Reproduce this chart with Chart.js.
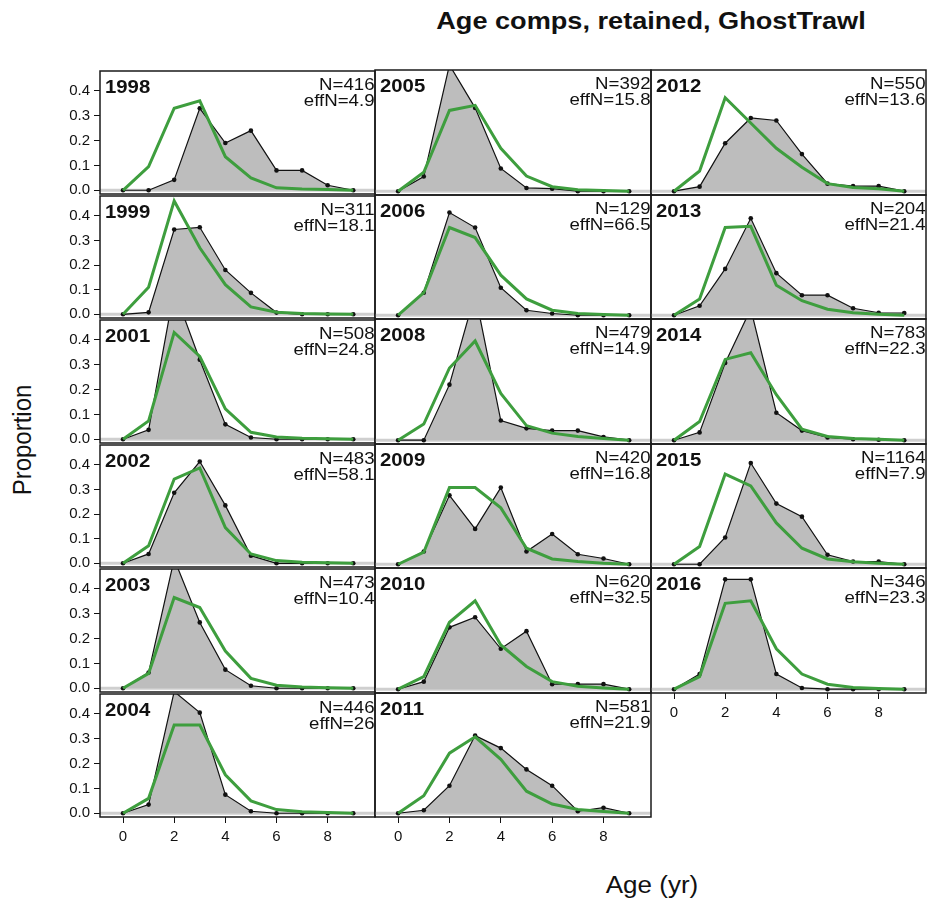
<!DOCTYPE html>
<html>
<head>
<meta charset="utf-8">
<script src="https://cdn.jsdelivr.net/npm/chart.js@4.4.1/dist/chart.umd.min.js"></script>
<style>
  html, body { margin: 0; padding: 0; background: #fff; }
  #wrap { position: relative; width: 930px; height: 909px; overflow: hidden; font-family: "Liberation Sans", Arial, sans-serif; }
  #wrap canvas { position: absolute; }
  .lbl { position: absolute; white-space: nowrap; color: #111; }
  #title { top: 9px; left: 651px; font-size: 24px; font-weight: bold; line-height: 24px; transform: translateX(-50%) scaleX(1.13); }
  #xlab { top: 874px; left: 652px; font-size: 23px; line-height: 23px; transform: translateX(-50%) scaleX(1.13); }
  #ylab { top: 440px; left: 22px; font-size: 24px; line-height: 24px; transform: translate(-50%, -50%) rotate(-90deg) scaleY(1.08); }
</style>
</head>
<body>
<div id="wrap">
  <div class="lbl" id="title">Age comps, retained, GhostTrawl</div>
  <div class="lbl" id="xlab">Age (yr)</div>
  <div class="lbl" id="ylab">Proportion</div>
</div>
<script>
// ages on the x axis and the axis tick values
const ages = [0, 1, 2, 3, 4, 5, 6, 7, 8, 9];
const xTicks = [0, 2, 4, 6, 8];
const yTicks = [0, 0.1, 0.2, 0.3, 0.4];

// panels, filled down each column
const years = [1998, 1999, 2001, 2002, 2003, 2004,
               2005, 2006, 2008, 2009, 2010, 2011,
               2012, 2013, 2014, 2015, 2016];
const sampleN = [416, 311, 508, 483, 473, 446,
                 392, 129, 479, 420, 620, 581,
                 550, 204, 783, 1164, 346];
const effN = ['4.9', '18.1', '24.8', '58.1', '10.4', '26',
              '15.8', '66.5', '14.9', '16.8', '32.5', '21.9',
              '13.6', '21.4', '22.3', '7.9', '23.3'];

// observed proportions at age
const observed = [
  [0, 0, 0.042, 0.33, 0.19, 0.24, 0.08, 0.08, 0.02, 0],
  [0, 0.008, 0.344, 0.353, 0.18, 0.087, 0.007, 0, 0, 0],
  [0, 0.038, 0.60, 0.32, 0.06, 0.007, 0, 0, 0, 0],
  [0, 0.038, 0.286, 0.413, 0.235, 0.031, 0, 0, 0, 0],
  [0, 0.063, 0.52, 0.265, 0.075, 0.01, 0, 0, 0, 0],
  [0, 0.035, 0.49, 0.405, 0.075, 0.008, 0, 0, 0, 0],
  [0, 0.058, 0.50, 0.33, 0.09, 0.013, 0.01, 0, 0, 0],
  [0, 0.09, 0.41, 0.35, 0.11, 0.02, 0.007, 0, 0, 0],
  [0, 0, 0.22, 0.58, 0.078, 0.047, 0.038, 0.038, 0.013, 0],
  [0, 0.051, 0.275, 0.141, 0.306, 0.051, 0.121, 0.04, 0.023, 0],
  [0, 0.03, 0.245, 0.285, 0.16, 0.23, 0.02, 0.02, 0.02, 0],
  [0, 0.012, 0.11, 0.31, 0.26, 0.175, 0.11, 0.008, 0.022, 0],
  [0, 0.018, 0.19, 0.29, 0.28, 0.147, 0.03, 0.02, 0.02, 0],
  [0, 0.038, 0.185, 0.387, 0.168, 0.08, 0.08, 0.028, 0.01, 0.009],
  [0, 0.031, 0.306, 0.52, 0.109, 0.038, 0.011, 0.004, 0.002, 0],
  [0, 0, 0.107, 0.404, 0.242, 0.19, 0.038, 0.011, 0.011, 0],
  [0, 0.06, 0.435, 0.435, 0.06, 0.005, 0, 0, 0, 0]
];

// model expected proportions at age
const expected = [
  [0, 0.095, 0.33, 0.36, 0.135, 0.05, 0.01, 0.005, 0.003, 0],
  [0, 0.11, 0.46, 0.27, 0.12, 0.03, 0.008, 0.003, 0.001, 0],
  [0, 0.074, 0.43, 0.333, 0.122, 0.028, 0.009, 0.004, 0.002, 0],
  [0, 0.071, 0.342, 0.387, 0.145, 0.038, 0.011, 0.004, 0.002, 0],
  [0, 0.06, 0.365, 0.325, 0.15, 0.04, 0.012, 0.005, 0.002, 0],
  [0, 0.06, 0.355, 0.355, 0.155, 0.05, 0.015, 0.006, 0.003, 0],
  [0, 0.075, 0.32, 0.34, 0.17, 0.06, 0.018, 0.006, 0.003, 0],
  [0, 0.09, 0.35, 0.31, 0.16, 0.065, 0.02, 0.007, 0.003, 0],
  [0, 0.064, 0.286, 0.393, 0.185, 0.058, 0.028, 0.015, 0.007, 0],
  [0, 0.048, 0.306, 0.306, 0.225, 0.064, 0.021, 0.011, 0.004, 0],
  [0, 0.05, 0.265, 0.35, 0.175, 0.09, 0.03, 0.012, 0.005, 0],
  [0, 0.07, 0.24, 0.305, 0.215, 0.088, 0.037, 0.015, 0.007, 0],
  [0, 0.08, 0.37, 0.27, 0.17, 0.095, 0.03, 0.015, 0.01, 0],
  [0, 0.065, 0.35, 0.355, 0.12, 0.058, 0.024, 0.01, 0.004, 0],
  [0, 0.074, 0.32, 0.346, 0.18, 0.044, 0.015, 0.007, 0.004, 0],
  [0, 0.071, 0.36, 0.313, 0.165, 0.064, 0.021, 0.01, 0.004, 0],
  [0, 0.05, 0.34, 0.35, 0.16, 0.06, 0.02, 0.007, 0.003, 0]
];

const colLeft = [100, 375, 651];
const colRight = [375, 651, 926];
const rowTop = [70, 195, 319, 444, 568, 693];
const rowBottom = [195, 319, 444, 568, 693, 817];
const rowsPerCol = [6, 6, 5];
const PAD = 12;
const Y_AXIS_W = 45;
const X_AXIS_H = 30;
const GREEN = '#3e9e3e';
const STRETCH = 1.13;

// grey line along zero, drawn under the data
const zeroLine = {
  id: 'zeroLine',
  beforeDatasetsDraw(chart) {
    const { ctx, chartArea, scales } = chart;
    const y = scales.y.getPixelForValue(0);
    ctx.save();
    ctx.strokeStyle = '#cfcfcf';
    ctx.lineWidth = 3;
    ctx.beginPath();
    ctx.moveTo(chartArea.left, y);
    ctx.lineTo(chartArea.right, y);
    ctx.stroke();
    ctx.restore();
  }
};

// box round each panel plus year / sample size labels
const panelFrame = {
  id: 'panelFrame',
  afterDraw(chart, args, opts) {
    const { ctx, chartArea } = chart;
    const { left, top, right, bottom } = chartArea;
    ctx.save();
    ctx.strokeStyle = '#1a1a1a';
    ctx.lineWidth = 1.5;
    ctx.strokeRect(left, top, right - left, bottom - top);

    ctx.fillStyle = '#111';
    ctx.textBaseline = 'alphabetic';
    ctx.font = 'bold 18px "Liberation Sans", Arial, sans-serif';
    ctx.save();
    ctx.translate(left + 5, top + 21.5);
    ctx.scale(STRETCH, 1);
    ctx.textAlign = 'left';
    ctx.fillText(String(opts.year), 0, 0);
    ctx.restore();

    ctx.font = '16.5px "Liberation Sans", Arial, sans-serif';
    ctx.textAlign = 'right';
    [['N=' + opts.n, 18.5], ['effN=' + opts.eff, 35]].forEach(([txt, dy]) => {
      ctx.save();
      ctx.translate(right - 0.5, top + dy);
      ctx.scale(STRETCH, 1);
      ctx.fillText(txt, 0, 0);
      ctx.restore();
    });
    ctx.restore();
  }
};

const wrap = document.getElementById('wrap');
let p = 0;
for (let c = 0; c < 3; c++) {
  for (let r = 0; r < rowsPerCol[c]; r++, p++) {
    const showY = c === 0;
    const showX = r === rowsPerCol[c] - 1;
    const fw = colRight[c] - colLeft[c];
    const fh = rowBottom[r] - rowTop[r];
    const canvas = document.createElement('canvas');
    const w = fw + 2 * PAD + (showY ? Y_AXIS_W : 0);
    const h = fh + 2 * PAD + (showX ? X_AXIS_H : 0);
    canvas.width = w;
    canvas.height = h;
    canvas.style.left = (colLeft[c] - PAD - (showY ? Y_AXIS_W : 0)) + 'px';
    canvas.style.top = (rowTop[r] - PAD) + 'px';
    canvas.style.width = w + 'px';
    canvas.style.height = h + 'px';
    wrap.appendChild(canvas);

    new Chart(canvas, {
      type: 'line',
      data: {
        datasets: [
          {
            data: ages.map((a, i) => ({ x: a, y: expected[p][i] })),
            borderColor: GREEN,
            borderWidth: 3,
            pointRadius: 0,
            fill: false,
            order: 0
          },
          {
            data: ages.map((a, i) => ({ x: a, y: observed[p][i] })),
            borderColor: '#111',
            borderWidth: 1.2,
            backgroundColor: '#bdbdbd',
            fill: 'origin',
            pointRadius: 2.3,
            pointBackgroundColor: '#111',
            pointBorderWidth: 0,
            order: 1
          }
        ]
      },
      options: {
        responsive: false,
        animation: false,
        devicePixelRatio: 1,
        events: [],
        layout: { padding: PAD },
        plugins: {
          legend: { display: false },
          tooltip: { enabled: false },
          panelFrame: { year: years[p], n: sampleN[p], eff: effN[p] }
        },
        scales: {
          x: {
            type: 'linear',
            min: -0.9,
            max: 9.85,
            display: showX,
            afterBuildTicks: axis => { axis.ticks = xTicks.map(v => ({ value: v })); },
            afterFit: axis => { if (showX) axis.height = X_AXIS_H; },
            border: { display: false },
            grid: { drawOnChartArea: false, drawTicks: true, tickLength: 6, color: '#111', lineWidth: 1 },
            ticks: { maxRotation: 0, padding: 5, color: '#111', font: { family: '"Liberation Sans", Arial, sans-serif', size: 15 } }
          },
          y: {
            min: -0.015,
            max: 0.48,
            display: showY,
            afterBuildTicks: axis => { axis.ticks = yTicks.map(v => ({ value: v })); },
            afterFit: axis => { if (showY) axis.width = Y_AXIS_W; },
            border: { display: false },
            grid: { drawOnChartArea: false, drawTicks: true, tickLength: 6, color: '#111', lineWidth: 1 },
            ticks: {
              padding: 4,
              color: '#111',
              font: { family: '"Liberation Sans", Arial, sans-serif', size: 15 },
              callback: v => v.toFixed(1)
            }
          }
        }
      },
      plugins: [zeroLine, panelFrame]
    });
  }
}
</script>
</body>
</html>
